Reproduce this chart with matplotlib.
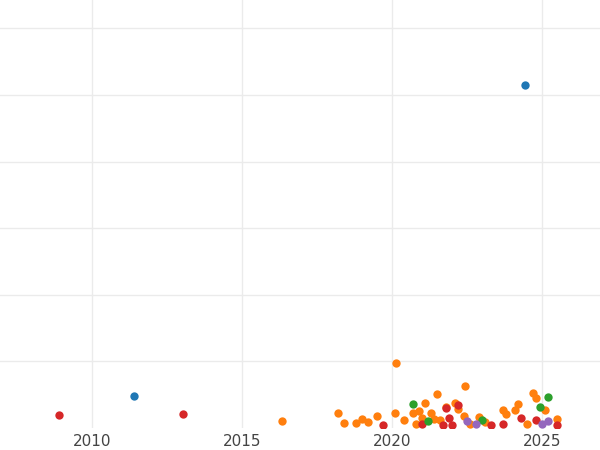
import matplotlib
matplotlib.use("Agg")
import matplotlib.pyplot as plt

def u(py):
    return (428 - py) / 66.6

blue_x = [2024.45, 2011.4]
blue_y = [u(85), u(396)]
red_x = [2008.9, 2013.05, 2019.7, 2021.8, 2022.2, 2021.9, 2023.7, 2024.3, 2025.5, 2021.0, 2022.0, 2023.3, 2024.8, 2021.7]
red_y = [u(p) for p in [415, 414, 425, 408, 405, 418, 424, 418, 425, 424, 425, 425, 420, 425]]
orange_x = [2016.35, 2020.15, 2022.45, 2021.5, 2024.7, 2024.8, 2024.2, 2018.2, 2018.4, 2018.8, 2019.0, 2019.2, 2019.5, 2020.1, 2020.4, 2020.7, 2020.9, 2021.1, 2021.3, 2021.0, 2021.4, 2021.8, 2022.1, 2022.4, 2022.9, 2023.1, 2023.7, 2023.8, 2024.1, 2025.1, 2025.5, 2022.2, 2021.6, 2020.8, 2022.6, 2024.5]
orange_y = [u(p) for p in [421, 363, 386, 394, 393, 398, 404, 413, 423, 423, 419, 422, 416, 413, 420, 413, 411, 403, 413, 418, 419, 407, 403, 416, 417, 422, 410, 414, 410, 410, 419, 409, 420, 424, 424, 424]]
green_x = [2020.7, 2025.2, 2024.95, 2021.2, 2023.0]
green_y = [u(p) for p in [404, 397, 407, 421, 420]]
purple_x = [2022.8, 2025.2, 2022.5, 2025.0]
purple_y = [u(p) for p in [424, 421, 421, 424]]

fig = plt.figure(figsize=(6, 4.5), dpi=100)
ax = fig.add_axes([0, 22/450, 1, 428/450])
ax.set_xlim(2010 - 92/30, 2025 + 58/30)
ax.set_ylim(0, 428/66.6)
for xs, ys, c in [(orange_x, orange_y, '#ff7f0e'), (red_x, red_y, '#d62728'),
                  (green_x, green_y, '#2ca02c'), (purple_x, purple_y, '#9467bd'),
                  (blue_x, blue_y, '#1f77b4')]:
    ax.scatter(xs, ys, s=36, color=c, zorder=3, clip_on=True, linewidths=0)
ax.set_xticks([2010, 2015, 2020, 2025])
ax.set_yticks([1, 2, 3, 4, 5, 6])
ax.set_yticklabels([])
ax.grid(True, color='#ebebeb', linewidth=1)
ax.set_axisbelow(True)
for s in ax.spines.values():
    s.set_visible(False)
ax.tick_params(length=0, labelsize=11, labelcolor='#444444', pad=4)
fig.savefig("out.png", dpi=100)
